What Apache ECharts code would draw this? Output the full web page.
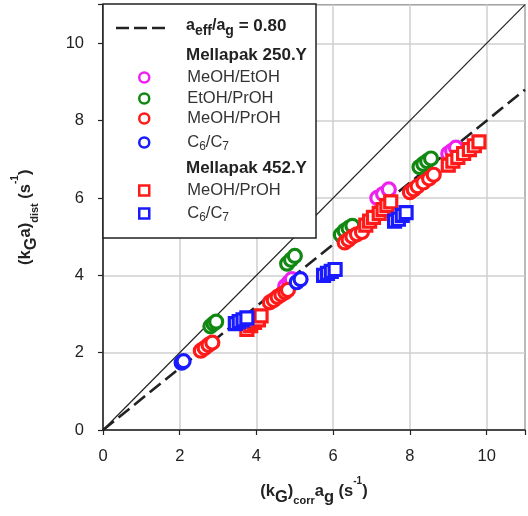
<!DOCTYPE html>
<html><head><meta charset="utf-8">
<script src="https://cdn.jsdelivr.net/npm/echarts@6/dist/echarts.min.js"></script>
<style>html,body{margin:0;padding:0;background:#fff}#c{width:528px;height:516px}</style>
</head><body><div id="c"></div>
<script>
// ---- data ----
const xTicks = [0, 2, 4, 6, 8, 10];
const yTicks = [0, 2, 4, 6, 8, 10];
const ratio = 0.80;
const refLine = [[0, 0], [11, 11]];
const fitLine = [[0, 0], [11, 11 * ratio]];
const m250_MeOH_EtOH = [[4.75,3.72],[4.85,3.82],[4.92,3.9],[7.15,6.0],[7.3,6.1],[7.45,6.22],[9.0,7.15],[9.1,7.22],[9.2,7.3]];
const m250_EtOH_PrOH = [[2.8,2.68],[2.88,2.75],[2.95,2.8],[4.8,4.3],[4.9,4.4],[5.0,4.5],[6.2,5.05],[6.3,5.15],[6.4,5.22],[6.5,5.28],[8.25,6.8],[8.35,6.88],[8.45,6.95],[8.55,7.02]];
const m250_MeOH_PrOH = [[2.55,2.05],[2.65,2.12],[2.75,2.2],[2.85,2.26],[4.35,3.3],[4.45,3.36],[4.55,3.44],[4.65,3.5],[4.75,3.56],[4.82,3.62],[6.3,4.85],[6.4,4.92],[6.5,5.0],[6.62,5.06],[6.75,5.12],[8.0,6.15],[8.1,6.22],[8.2,6.3],[8.35,6.4],[8.5,6.5],[8.62,6.6]];
const m250_C6_C7 = [[2.05,1.74],[2.1,1.78],[5.05,3.82],[5.15,3.9]];
const m452_MeOH_PrOH = [[3.75,2.6],[3.85,2.7],[3.95,2.78],[4.05,2.85],[4.12,2.95],[6.85,5.3],[6.95,5.4],[7.05,5.5],[7.2,5.6],[7.3,5.7],[7.4,5.8],[7.5,5.9],[9.0,6.85],[9.12,6.95],[9.25,7.05],[9.4,7.15],[9.55,7.25],[9.68,7.35],[9.8,7.45]];
const m452_C6_C7 = [[3.45,2.75],[3.55,2.8],[3.65,2.85],[3.75,2.9],[5.75,4.0],[5.85,4.05],[5.95,4.1],[6.05,4.15],[7.6,5.4],[7.7,5.45],[7.8,5.55],[7.9,5.62]];

const MAG = '#ee22ee', GRN = '#118811', RED = '#ff1a1a', BLU = '#1a1aff';
const FONT = 'Liberation Sans, Arial, sans-serif';

function sc(name, data, color, symbol) {
  return {
    type: 'scatter', name, data,
    symbol, symbolSize: symbol === 'circle' ? 13 : 12,
    itemStyle: { color: '#fff', borderColor: color, borderWidth: 3.2, opacity: 1 },
    z: 3
  };
}
const subRich = {
  sub: { fontSize: 12, verticalAlign: 'bottom', padding: [9, 0, 0, 0], fontFamily: FONT, color: '#333' },
  n: { fontSize: 16.5, fontFamily: FONT, color: '#333' }
};
function legendOne(name, top, icon, color) {
  return {
    show: true, orient: 'vertical', left: 138, top, itemGap: 0, padding: 0,
    itemWidth: 10, itemHeight: 10, z: 10,
    data: [{ name, icon, itemStyle: { color: '#fff', borderColor: color, borderWidth: 2.5 } }],
    formatter: n => {
      if (n.indexOf('C6') >= 0) return '{n|C}{sub|6}{n|/C}{sub|7}';
      return '{n|' + n.replace(/ \(.*\)/, '') + '}';
    },
    textStyle: {
      fontFamily: FONT, fontSize: 16.5, color: '#333', padding: [0, 0, 0, 33],
      rich: subRich
    }
  };
}

const chart = echarts.init(document.getElementById('c'), null, { renderer: 'canvas' });
chart.setOption({
  animation: false,
  textStyle: { fontFamily: FONT },
  grid: { left: 103, top: 4.6, width: 422.4, height: 425.4, show: true, borderColor: '#222', borderWidth: 1.2, backgroundColor: 'transparent' },
  xAxis: {
    type: 'value', min: 0, max: 11, interval: 2,
    axisLine: { show: true, onZero: false, lineStyle: { color: '#222', width: 1.5 } },
    axisTick: { show: true, length: 5, lineStyle: { color: '#222', width: 1.2 } },
    splitLine: { show: true, lineStyle: { color: '#cfcfcf', width: 1.5 } },
    axisLabel: { fontSize: 16.5, color: '#222', margin: 18, fontFamily: FONT,
      formatter: v => xTicks.indexOf(v) >= 0 ? String(v) : '' },
    name: '{n|(k}{g|G}{n|)}{c|corr}{n|a}{g2|g}{n| (s}{sp|-1}{n|)}',
    nameLocation: 'middle', nameGap: 46,
    nameTextStyle: { rich: {
      n: { fontSize: 16.5, fontWeight: 'bold', color: '#222', fontFamily: FONT, lineHeight: 30 },
      g: { fontSize: 16.5, fontWeight: 'bold', color: '#222', fontFamily: FONT, verticalAlign: 'bottom', padding: [6,0,0,0] },
      g2: { fontSize: 16.5, fontWeight: 'bold', color: '#222', fontFamily: FONT, verticalAlign: 'bottom', padding: [6,0,0,0] },
      c: { fontSize: 11, fontWeight: 'bold', color: '#222', fontFamily: FONT, verticalAlign: 'bottom', padding: [14,0,0,0] },
      sp: { fontSize: 10, fontWeight: 'bold', color: '#222', fontFamily: FONT, verticalAlign: 'top', padding: [0,0,10,0] }
    } }
  },
  yAxis: {
    type: 'value', min: 0, max: 11, interval: 2,
    axisLine: { show: true, onZero: false, lineStyle: { color: '#222', width: 1.5 } },
    axisTick: { show: true, length: 5, lineStyle: { color: '#222', width: 1.2 } },
    splitLine: { show: true, lineStyle: { color: '#cfcfcf', width: 1.5 } },
    axisLabel: { fontSize: 16.5, color: '#222', margin: 19, fontFamily: FONT,
      formatter: v => yTicks.indexOf(v) >= 0 ? String(v) : '' },
    name: '{n|(k}{g|G}{n|a)}{c|dist}{n| (s}{sp|-1}{n|)}',
    nameLocation: 'middle', nameGap: 63,
    nameTextStyle: { rich: {
      n: { fontSize: 16.5, fontWeight: 'bold', color: '#222', fontFamily: FONT, lineHeight: 30 },
      g: { fontSize: 16.5, fontWeight: 'bold', color: '#222', fontFamily: FONT, verticalAlign: 'bottom', padding: [5,0,0,0] },
      c: { fontSize: 11, fontWeight: 'bold', color: '#222', fontFamily: FONT, verticalAlign: 'bottom', padding: [14,0,0,0] },
      sp: { fontSize: 10, fontWeight: 'bold', color: '#222', fontFamily: FONT, verticalAlign: 'top', padding: [0,0,10,0] }
    } }
  },
  legend: [
    legendOne('MeOH/EtOH (250)', 69, 'circle', MAG),
    legendOne('EtOH/PrOH (250)', 90, 'circle', GRN),
    legendOne('MeOH/PrOH (250)', 110, 'circle', RED),
    legendOne('C6/C7 (250)', 134, 'circle', BLU),
    legendOne('MeOH/PrOH (452)', 182, 'rect', RED),
    legendOne('C6/C7 (452)', 205, 'rect', BLU)
  ],
  graphic: [
    { type: 'rect', z: 8, shape: { x: 103, y: 4, width: 213, height: 234 },
      style: { fill: '#fff', stroke: '#222', lineWidth: 1.5 } },
    { type: 'line', z: 9, shape: { x1: 116, y1: 28, x2: 166, y2: 28 },
      style: { stroke: '#222', lineWidth: 2.6, lineDash: [13, 5] } },
    { type: 'text', z: 9, x: 186, y: 26,
      style: { text: '{a|a}{s|eff}{a|/a}{s|g}{b| = 0.80}', verticalAlign: 'middle',
        rich: {
          a: { fontSize: 16, fontWeight: 'bold', fontFamily: FONT, fill: '#222', color: '#222' },
          s: { fontSize: 14, fontWeight: 'bold', fontFamily: FONT, fill: '#222', color: '#222', verticalAlign: 'bottom', padding: [10, 0, 0, 0] },
          b: { fontSize: 17, fontWeight: 'bold', fontFamily: FONT, fill: '#222', color: '#222' }
        } } },
    { type: 'text', z: 9, x: 186, y: 55,
      style: { text: 'Mellapak 250.Y', font: 'bold 17px ' + FONT, fill: '#222', verticalAlign: 'middle' } },
    { type: 'text', z: 9, x: 186, y: 168,
      style: { text: 'Mellapak 452.Y', font: 'bold 17px ' + FONT, fill: '#222', verticalAlign: 'middle' } }
  ],
  series: [
    { type: 'line', name: 'ref', data: refLine, showSymbol: false, symbol: 'none',
      lineStyle: { color: '#222', width: 1.2 }, z: 2, silent: true },
    { type: 'line', name: 'ratio', data: fitLine, showSymbol: false, symbol: 'none',
      lineStyle: { color: '#222', width: 2.6, type: [14, 6] }, z: 2, silent: true },
    sc('MeOH/EtOH (250)', m250_MeOH_EtOH, MAG, 'circle'),
    sc('EtOH/PrOH (250)', m250_EtOH_PrOH, GRN, 'circle'),
    sc('MeOH/PrOH (250)', m250_MeOH_PrOH, RED, 'circle'),
    sc('C6/C7 (250)', m250_C6_C7, BLU, 'circle'),
    sc('MeOH/PrOH (452)', m452_MeOH_PrOH, RED, 'rect'),
    sc('C6/C7 (452)', m452_C6_C7, BLU, 'rect')
  ]
});
</script></body></html>
